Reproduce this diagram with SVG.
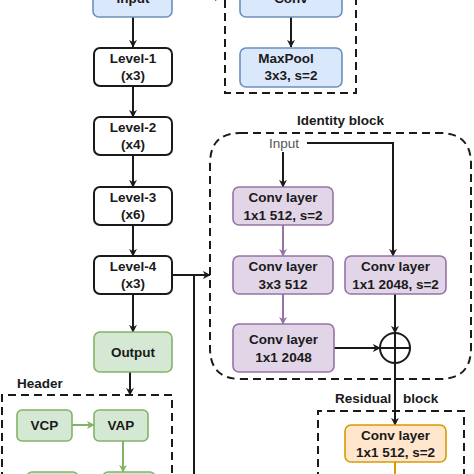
<svg xmlns="http://www.w3.org/2000/svg" width="474" height="474" viewBox="0 0 474 474">
<defs>
<style>
text{font-family:"Liberation Sans",Arial,sans-serif;font-size:13.5px;font-weight:bold;fill:#1a1a1a;text-anchor:middle}
.box{stroke-width:1.6}
.blk{fill:#ffffff;stroke:#1a1a1a;stroke-width:2}
.blue{fill:#dae8fc;stroke:#6c8ebf}
.green{fill:#d5e8d4;stroke:#82b366}
.purple{fill:#e1d5e7;stroke:#9673a6}
.orange{fill:#ffe6cc;stroke:#d79b00}
.dash{fill:none;stroke:#1a1a1a;stroke-width:2;stroke-dasharray:8 5}
.ln{fill:none;stroke:#1a1a1a;stroke-width:2}
.lg{fill:none;stroke:#82b366;stroke-width:2}
.lp{fill:none;stroke:#9673a6;stroke-width:2}
.lo{fill:none;stroke:#d79b00;stroke-width:2}
</style>
<marker id="ab" viewBox="0 0 10 10" refX="9" refY="5" markerWidth="8" markerHeight="8" markerUnits="userSpaceOnUse" orient="auto"><path d="M0,0 L10,5 L0,10 L3,5 Z" fill="#1a1a1a"/></marker>
<marker id="ag" viewBox="0 0 10 10" refX="9" refY="5" markerWidth="8" markerHeight="8" markerUnits="userSpaceOnUse" orient="auto"><path d="M0,0 L10,5 L0,10 L3,5 Z" fill="#82b366"/></marker>
<marker id="ap" viewBox="0 0 10 10" refX="9" refY="5" markerWidth="8" markerHeight="8" markerUnits="userSpaceOnUse" orient="auto"><path d="M0,0 L10,5 L0,10 L3,5 Z" fill="#9673a6"/></marker>
</defs>
<rect width="474" height="474" fill="#ffffff"/>

<g id="groups">
<path class="dash" d="M225,0 V93 H356 V0"/>
<text x="297" y="125" style="text-anchor:start">Identity block</text>
<path class="dash" d="M240,133 H440 Q471,133 471,164 V348 Q471,379 440,379 H241 Q210,379 210,348 V164 Q210,133 240,133 Z"/>
<text x="335" y="403" style="text-anchor:start;word-spacing:8px">Residual block</text>
<path class="dash" d="M318,480 V411 H464 V480"/>
<text x="17" y="388" style="text-anchor:start">Header</text>
<path class="dash" d="M2,480 V395 H172 V480"/>
</g>

<g id="connectors">
<line class="ln" x1="172" y1="-3" x2="222" y2="-3" marker-end="url(#ab)"/>
<line class="ln" x1="133" y1="17" x2="133" y2="47" marker-end="url(#ab)"/>
<line class="ln" x1="291" y1="17" x2="291" y2="47" marker-end="url(#ab)"/>
<line class="ln" x1="133" y1="86" x2="133" y2="117" marker-end="url(#ab)"/>
<line class="ln" x1="133" y1="155" x2="133" y2="187" marker-end="url(#ab)"/>
<line class="ln" x1="133" y1="225" x2="133" y2="256" marker-end="url(#ab)"/>
<line class="ln" x1="133" y1="294" x2="133" y2="332" marker-end="url(#ab)"/>
<line class="ln" x1="172" y1="275" x2="210" y2="275" marker-end="url(#ab)"/>
<line class="ln" x1="194" y1="275" x2="194" y2="476"/>
<line class="ln" x1="130" y1="372" x2="130" y2="395" marker-end="url(#ab)"/>
<line class="lg" x1="72" y1="425" x2="94" y2="425" marker-end="url(#ag)"/>
<line class="lg" x1="123" y1="441" x2="123" y2="472" marker-end="url(#ag)"/>
<line class="ln" x1="283" y1="152" x2="283" y2="187" marker-end="url(#ab)"/>
<path class="ln" d="M307,143 H393 V256" marker-end="url(#ab)"/>
<line class="lp" x1="283" y1="225" x2="283" y2="256" marker-end="url(#ap)"/>
<line class="lp" x1="283" y1="294" x2="283" y2="324" marker-end="url(#ap)"/>
<line class="ln" x1="395" y1="294" x2="395" y2="333" marker-end="url(#ab)"/>
<line class="ln" x1="334" y1="348" x2="380" y2="348" marker-end="url(#ab)"/>
<line class="ln" x1="395" y1="363" x2="395" y2="425" marker-end="url(#ab)"/>
<line class="lo" x1="395" y1="462" x2="395" y2="476"/>
</g>

<g id="input"><rect class="box blue" x="93" y="-25" width="79" height="42" rx="6"/><text x="133" y="3">Input</text></g>
<g id="conv-stem"><rect class="box blue" x="240" y="-25" width="102" height="42" rx="6"/><text x="291" y="3">Conv</text></g>
<g id="maxpool"><rect class="box blue" x="240" y="48" width="102" height="39" rx="6"/><text x="286" y="63">MaxPool</text><text x="291" y="80">3x3, s=2</text></g>
<g id="level1"><rect class="blk" x="94" y="48" width="78" height="38" rx="6"/><text x="133" y="63">Level-1</text><text x="133" y="80">(x3)</text></g>
<g id="level2"><rect class="blk" x="94" y="117" width="78" height="38" rx="6"/><text x="133" y="132">Level-2</text><text x="133" y="149">(x4)</text></g>
<g id="level3"><rect class="blk" x="94" y="187" width="78" height="38" rx="6"/><text x="133" y="202">Level-3</text><text x="133" y="219">(x6)</text></g>
<g id="level4"><rect class="blk" x="94" y="256" width="78" height="38" rx="6"/><text x="133" y="271">Level-4</text><text x="133" y="288">(x3)</text></g>
<g id="output"><rect class="box green" x="94" y="332" width="78" height="40" rx="6"/><text x="133" y="357">Output</text></g>
<g id="vcp"><rect class="box green" x="17" y="410" width="55" height="31" rx="5"/><text x="44.5" y="430">VCP</text></g>
<g id="vap"><rect class="box green" x="94" y="410" width="54" height="31" rx="5"/><text x="121" y="430">VAP</text></g>
<g id="hdr-b1"><rect class="box green" x="27" y="472" width="51" height="20" rx="5"/></g>
<g id="hdr-b2"><rect class="box green" x="103" y="472" width="52" height="20" rx="5"/></g>
<g id="id-input"><text x="284" y="148" style="font-weight:normal;fill:#555555">Input</text></g>
<g id="conv1"><rect class="box purple" x="233" y="187" width="100" height="38" rx="6"/><text x="283" y="202">Conv layer</text><text x="283" y="220">1x1 512, s=2</text></g>
<g id="conv2"><rect class="box purple" x="233" y="256" width="100" height="38" rx="6"/><text x="283" y="271">Conv layer</text><text x="283" y="289">3x3 512</text></g>
<g id="conv-sc"><rect class="box purple" x="345" y="256" width="101" height="38" rx="6"/><text x="395.5" y="271">Conv layer</text><text x="395.5" y="289">1x1 2048, s=2</text></g>
<g id="conv3"><rect class="box purple" x="233" y="324" width="101" height="48" rx="6"/><text x="283.5" y="344">Conv layer</text><text x="283.5" y="362">1x1 2048</text></g>
<g id="add"><circle cx="395" cy="348" r="15" fill="#ffffff" stroke="#1a1a1a" stroke-width="2"/><path class="ln" d="M380,348 H410 M395,333 V363"/></g>
<g id="conv-res"><rect class="box orange" x="345" y="425" width="101" height="37" rx="6"/><text x="395.5" y="440">Conv layer</text><text x="395.5" y="457">1x1 512, s=2</text></g>
</svg>
